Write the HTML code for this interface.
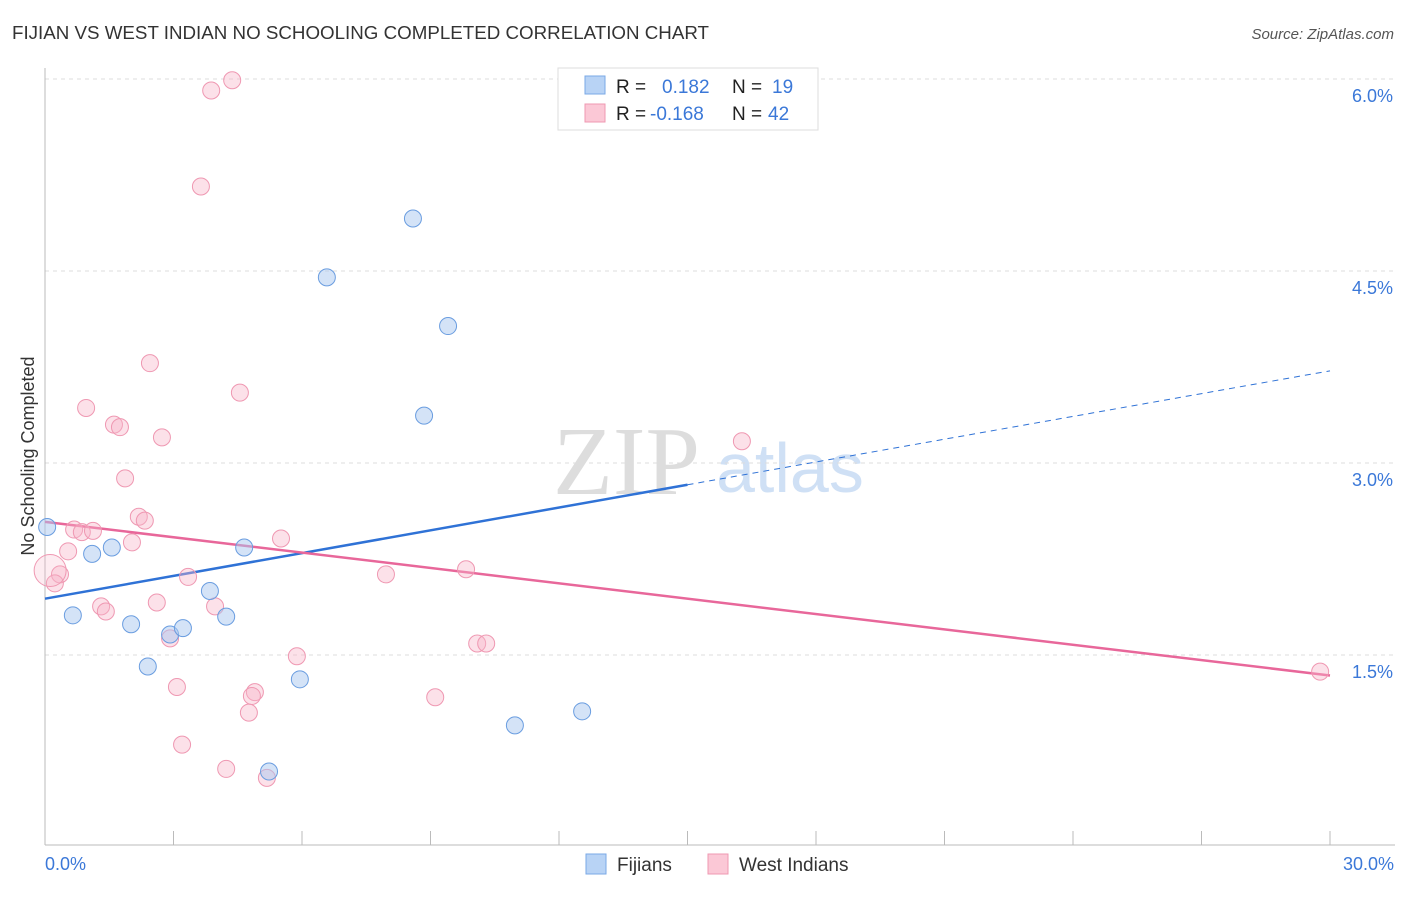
<!DOCTYPE html>
<html><head><meta charset="utf-8"><style>
body{margin:0;background:#fff;font-family:"Liberation Sans",sans-serif}
</style></head><body>
<svg width="1406" height="892" xmlns="http://www.w3.org/2000/svg" id="chart">
<text x="12" y="39" font-size="18" fill="#333" textLength="697" lengthAdjust="spacingAndGlyphs">FIJIAN VS WEST INDIAN NO SCHOOLING COMPLETED CORRELATION CHART</text>
<text x="1394" y="39" font-size="15" fill="#555" font-style="italic" text-anchor="end">Source: ZipAtlas.com</text>
<text x="553" y="494" font-size="98" fill="#ddd" font-family="Liberation Serif,serif">ZIP</text>
<text x="716" y="492" font-size="70" fill="#cfe0f5">atlas</text>
<g id="grid"></g><g id="axes"></g><g id="trend"></g><g id="pts"></g>
<text transform="translate(34,456) rotate(-90)" font-size="18" fill="#333" text-anchor="middle">No Schooling Completed</text>
<text x="45" y="870" font-size="18" fill="#3b78d8">0.0%</text>
<text x="1394" y="870" font-size="18" fill="#3b78d8" text-anchor="end">30.0%</text>
<g>
<rect x="558" y="68" width="260" height="62" fill="#fff" stroke="#ddd"/>
<rect x="585" y="76" width="20" height="18" fill="#b8d3f5" stroke="#7aa8e6"/>
<rect x="585" y="104" width="20" height="18" fill="#fbc8d6" stroke="#ef98b2"/>
<text x="616" y="93" font-size="19" fill="#222">R =</text><text x="662" y="93" font-size="19" fill="#3b78d8">0.182</text>
<text x="732" y="93" font-size="19" fill="#222">N =</text><text x="772" y="93" font-size="19" fill="#3b78d8">19</text>
<text x="616" y="120" font-size="19" fill="#222">R =</text><text x="650" y="120" font-size="19" fill="#3b78d8">-0.168</text>
<text x="732" y="120" font-size="19" fill="#222">N =</text><text x="768" y="120" font-size="19" fill="#3b78d8">42</text>
</g>
<g>
<rect x="586" y="854" width="20" height="20" fill="#b8d3f5" stroke="#7aa8e6"/>
<text x="617" y="871" font-size="19" fill="#333">Fijians</text>
<rect x="708" y="854" width="20" height="20" fill="#fbc8d6" stroke="#ef98b2"/>
<text x="739" y="871" font-size="19" fill="#333">West Indians</text>
</g>
</svg>
<script>
const yTicks=[1.5,3.0,4.5,6.0];
const yTickLabels=["1.5%","3.0%","4.5%","6.0%"];
const fijiX=[0.05,1.10,1.56,0.65,2.01,2.92,3.22,2.40,3.85,4.23,4.65,5.95,5.23,6.58,8.59,9.41,8.85,10.97,12.54];
const fijiY=[2.50,2.29,2.34,1.81,1.74,1.66,1.71,1.41,2.00,1.80,2.34,1.31,0.59,4.45,4.91,4.07,3.37,0.95,1.06];
const wiX=[4.37,3.88,3.64,2.45,0.96,4.55,1.61,1.75,2.73,1.87,2.19,2.33,0.68,0.86,1.12,2.03,0.54,5.51,0.35,0.23,3.34,7.96,9.83,1.31,1.42,2.61,3.97,2.92,5.88,10.09,10.30,3.08,4.90,4.83,4.76,9.11,3.20,4.23,5.18,16.27,29.77,0.12];
const wiY=[5.99,5.91,5.16,3.78,3.43,3.55,3.30,3.28,3.20,2.88,2.58,2.55,2.48,2.46,2.47,2.38,2.31,2.41,2.13,2.06,2.11,2.13,2.17,1.88,1.84,1.91,1.88,1.63,1.49,1.59,1.59,1.25,1.21,1.18,1.05,1.17,0.80,0.61,0.54,3.17,1.37,2.16];
const fijiTrend=[1.94,3.72];
const wiTrend=[2.54,1.34];
const NS="http://www.w3.org/2000/svg";
const sx=v=>45+v/30*1285, sy=v=>847-v*128;
function mk(t,a,p){const e=document.createElementNS(NS,t);for(const k in a)e.setAttribute(k,a[k]);document.getElementById(p).appendChild(e);return e;}
yTicks.forEach((t,i)=>{
 const l=mk('line',{x1:45,x2:1395,y1:sy(t),y2:sy(t),stroke:'#ddd','stroke-dasharray':'4,4'},'grid');
 
 
 const tx=mk('text',{x:1393,y:sy(t)+23,'font-size':18,fill:'#3b78d8','text-anchor':'end'},'grid');
 tx.textContent=yTickLabels[i];
 
 
});
const ax=mk('line',{x1:45,x2:1395,y1:845,y2:845,stroke:'#bbb'},'axes');


const ay=mk('line',{x1:45,x2:45,y1:68,y2:845,stroke:'#bbb'},'axes');


for(let i=0;i<=10;i++){const t=mk('line',{x1:sx(i*3),x2:sx(i*3),y1:831,y2:845,stroke:'#bbb'},'axes');
 
 }
const t1=mk('line',{x1:sx(0),y1:sy(fijiTrend[0]),x2:sx(15),y2:sy((fijiTrend[0]+fijiTrend[1])/2),stroke:'#2f72d6','stroke-width':2.5},'trend');


const t2=mk('line',{x1:sx(15),y1:sy((fijiTrend[0]+fijiTrend[1])/2),x2:sx(30),y2:sy(fijiTrend[1]),stroke:'#2f72d6','stroke-width':1,'stroke-dasharray':'6,5'},'trend');


const t3=mk('line',{x1:sx(0),y1:sy(wiTrend[0]),x2:sx(30),y2:sy(wiTrend[1]),stroke:'#e8679a','stroke-width':2.5},'trend');


wiX.forEach((x,i)=>{const big=i==wiX.length-1;const c=mk('circle',{cx:sx(x),cy:sy(wiY[i]),r:big?16:8.5,fill:big?'rgba(248,180,200,0.25)':'rgba(248,180,200,0.4)',stroke:'#ef98b2','stroke-width':1},'pts');
 
 });
fijiX.forEach((x,i)=>{const c=mk('circle',{cx:sx(x),cy:sy(fijiY[i]),r:8.5,fill:'rgba(170,200,240,0.5)',stroke:'#6a9de0','stroke-width':1},'pts');
 
 });
</script>
</body></html>
